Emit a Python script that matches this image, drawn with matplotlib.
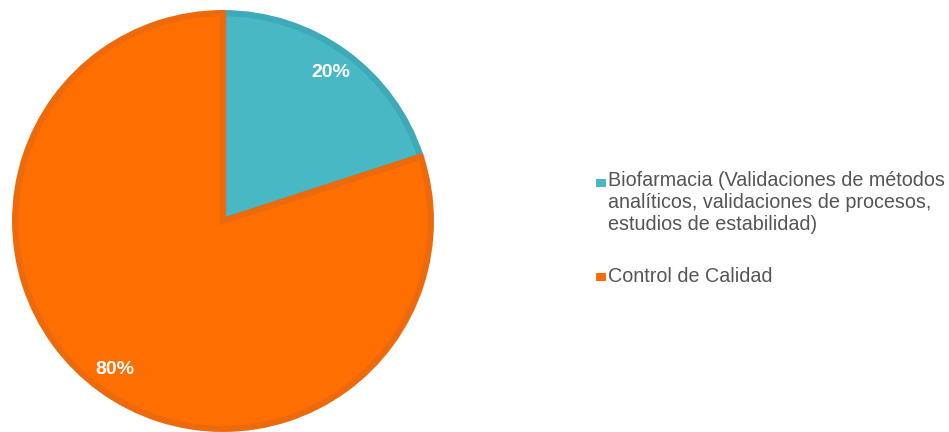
import matplotlib.pyplot as plt
from matplotlib.patches import Rectangle

plt.rcParams['font.family'] = ['Liberation Sans', 'DejaVu Sans']

labels = ['Biofarmacia (Validaciones de métodos\nanalíticos, validaciones de procesos,\nestudios de estabilidad)',
          'Control de Calidad']
shares = [20, 80]
fills = ['#47B8C4', '#FF6E00']
borders = ['#3EAAB7', '#EC6A0C']

fig = plt.figure(figsize=(9.49, 4.32), dpi=100)
ax = fig.add_axes([12 / 949, 0, 422 / 949, 422 / 432])

wedges, texts, autotexts = ax.pie(shares, colors=fills, startangle=90, counterclock=False,
                                  radius=0.985, autopct='%d%%', pctdistance=0.885,
                                  wedgeprops=dict(linewidth=4.5, joinstyle='miter'),
                                  textprops=dict(color='white', fontsize=14, fontweight='bold'))
for w, b in zip(wedges, borders):
    w.set_edgecolor(b)
ax.set_xlim(-1, 1)
ax.set_ylim(-1, 1)
ax.set_aspect('equal')
ax.axis('off')

# legend drawn by hand so the square sits beside the first line;
# va='baseline' pins the last line, so step down by the line pitch
pitch = 21
first_baselines = [188, 282]
for lab, col, y in zip(labels, fills, first_baselines):
    nlines = lab.count('\n')
    fig.patches.append(Rectangle((596 / 949, 1 - (y - 1) / 432), 10 / 949, 8 / 432,
                                 transform=fig.transFigure, facecolor=col, edgecolor='none'))
    fig.text(608 / 949, 1 - (y + nlines * pitch) / 432, lab, color='#555555', fontsize=14.2,
             va='baseline', ha='left', linespacing=1.2)

fig.savefig('out.png', dpi=100)
